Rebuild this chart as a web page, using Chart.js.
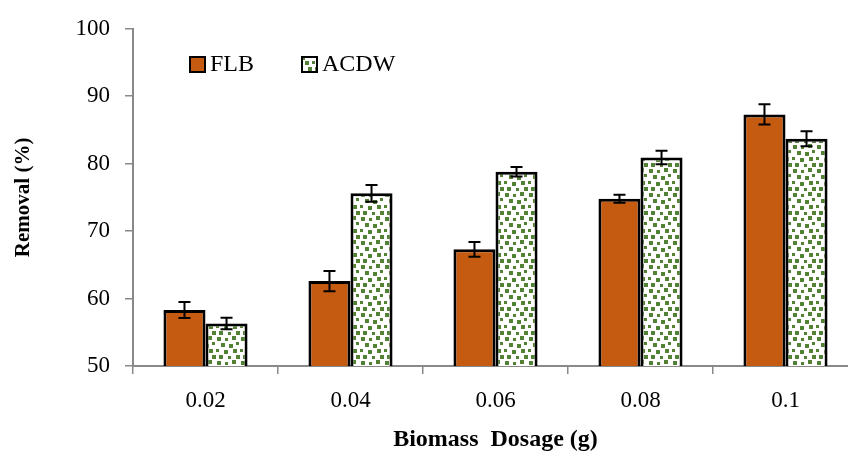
<!DOCTYPE html>
<html lang="en">
<head>
    <meta charset="UTF-8">
    <title>Removal vs Biomass Dosage</title>
    <script src="https://cdn.jsdelivr.net/npm/chart.js"></script>
    <style>
        html, body {
            margin: 0;
            padding: 0;
            background: #fff;
            overflow: hidden;
        }
    </style>
</head>
<body>
    <canvas id="removalChart" width="860" height="457"></canvas>
    <script>
        // du lieu doc tu hinh
        const dosages = ['0.02', '0.04', '0.06', '0.08', '0.1'];
        const flbValues = [58.3, 62.6, 67.3, 74.8, 87.3];
        const flbErrors = [1.2, 1.5, 1.1, 0.6, 1.5];
        const acdwValues = [56.3, 75.6, 78.8, 80.9, 83.7];
        const acdwErrors = [0.85, 1.25, 0.7, 1.0, 1.1];
        const yTicks = [50, 60, 70, 80, 90, 100];

        const axisGray = '#898989';
        const serif = "'Liberation Serif', 'Times New Roman', serif";

        // hoa van cham xanh (confetti) cho ACDW
        function makeConfetti() {
            const c = document.createElement('canvas');
            c.width = 24;
            c.height = 24;
            const g = c.getContext('2d');
            g.fillStyle = '#fff';
            g.fillRect(0, 0, 24, 24);
            g.fillStyle = '#548235';
            [[1, 1, 4], [9, 2, 3], [16, 0, 4], [5, 7, 4], [13, 8, 4], [20, 6, 3],
             [0, 13, 3], [8, 14, 4], [17, 13, 4], [3, 19, 4], [12, 20, 3], [20, 19, 4]]
                .forEach(p => g.fillRect(p[0], p[1], p[2], p[2]));
            return g.createPattern(c, 'repeat');
        }

        const errorBars = {
            id: 'errorBars',
            afterDatasetsDraw(chart) {
                const ctx = chart.ctx;
                const y = chart.scales.y;
                ctx.save();
                ctx.strokeStyle = '#000';
                ctx.lineWidth = 2;
                chart.data.datasets.forEach((ds, i) => {
                    const meta = chart.getDatasetMeta(i);
                    meta.data.forEach((bar, j) => {
                        const top = y.getPixelForValue(ds.data[j] + ds.errors[j]);
                        const bot = y.getPixelForValue(ds.data[j] - ds.errors[j]);
                        ctx.beginPath();
                        ctx.moveTo(bar.x, top);
                        ctx.lineTo(bar.x, bot);
                        ctx.moveTo(bar.x - 6, top);
                        ctx.lineTo(bar.x + 6, top);
                        ctx.moveTo(bar.x - 6, bot);
                        ctx.lineTo(bar.x + 6, bot);
                        ctx.stroke();
                    });
                });
                ctx.restore();
            }
        };

        // chu thich ve tay ben trong vung bieu do
        const insideLegend = {
            id: 'insideLegend',
            afterDraw(chart) {
                const ctx = chart.ctx;
                const spots = [190, 302];
                ctx.save();
                ctx.font = '24px ' + serif;
                ctx.textBaseline = 'middle';
                chart.data.datasets.forEach((ds, i) => {
                    const x = spots[i];
                    ctx.fillStyle = ds.backgroundColor;
                    ctx.fillRect(x, 57, 15, 15);
                    ctx.strokeStyle = '#000';
                    ctx.lineWidth = 2;
                    ctx.strokeRect(x, 57, 15, 15);
                    ctx.fillStyle = '#000';
                    ctx.fillText(ds.label, x + 20, 65);
                });
                ctx.restore();
            }
        };

        const ctx = document.getElementById('removalChart').getContext('2d');
        new Chart(ctx, {
            type: 'bar',
            data: {
                labels: dosages,
                datasets: [{
                    label: 'FLB',
                    data: flbValues,
                    errors: flbErrors,
                    backgroundColor: '#C55A11',
                    borderColor: '#000',
                    borderWidth: 3,
                    borderSkipped: false,
                    categoryPercentage: 0.58,
                    barPercentage: 1.0
                }, {
                    label: 'ACDW',
                    data: acdwValues,
                    errors: acdwErrors,
                    backgroundColor: makeConfetti(),
                    borderColor: '#000',
                    borderWidth: 3,
                    borderSkipped: false,
                    categoryPercentage: 0.58,
                    barPercentage: 1.0
                }]
            },
            options: {
                responsive: false,
                animation: false,
                devicePixelRatio: 1,
                layout: { padding: { top: 27, left: 0, right: 2, bottom: 0 } },
                plugins: {
                    legend: { display: false },
                    tooltip: { enabled: false }
                },
                scales: {
                    x: {
                        grid: {
                            drawOnChartArea: false,
                            color: axisGray,
                            lineWidth: 1.5,
                            tickLength: 8
                        },
                        border: { color: axisGray, width: 2 },
                        ticks: {
                            color: '#000',
                            padding: 13,
                            font: { family: serif, size: 23 }
                        },
                        title: {
                            display: true,
                            text: 'Biomass  Dosage (g)',
                            color: '#000',
                            padding: { top: 0, bottom: 3 },
                            font: { family: serif, size: 24, weight: 'bold' }
                        },
                        afterFit(scale) { scale.height = 91; }
                    },
                    y: {
                        min: 50,
                        max: 100,
                        afterBuildTicks(scale) {
                            scale.ticks = yTicks.map(v => ({ value: v }));
                        },
                        grid: {
                            drawOnChartArea: false,
                            color: axisGray,
                            lineWidth: 1.5,
                            tickLength: 8
                        },
                        border: { color: axisGray, width: 2 },
                        ticks: {
                            color: '#000',
                            padding: 15,
                            font: { family: serif, size: 23 }
                        },
                        title: {
                            display: true,
                            text: 'Removal (%)',
                            color: '#000',
                            padding: { top: 11, bottom: 0 },
                            font: { family: serif, size: 21, weight: 'bold' }
                        },
                        afterFit(scale) { scale.width = 133; }
                    }
                }
            },
            plugins: [errorBars, insideLegend]
        });
    </script>
</body>
</html>
